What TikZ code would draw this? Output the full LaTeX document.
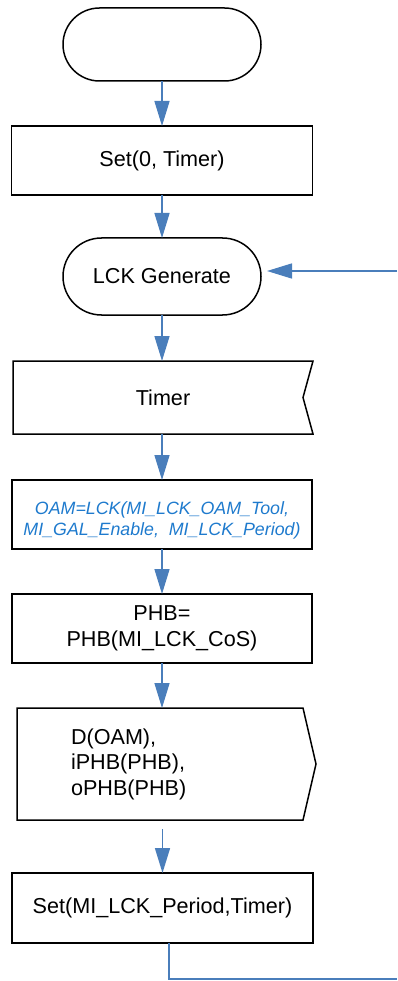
\documentclass[tikz,border=0pt]{standalone}
\usepackage{fontspec}
\setmainfont{Liberation Sans}
\usetikzlibrary{positioning, shapes.misc, arrows.meta}
\definecolor{flowblue}{RGB}{74,126,187}
\definecolor{noteblue}{RGB}{30,122,205}
\tikzset{
node distance=45pt, % gap between two boxes
every node/.style={font=\fontsize{21.6}{25.5}\selectfont, inner sep=0pt, outer sep=0pt, align=center},
terminal/.style={rounded rectangle, draw, line width=1.5pt, minimum width=198pt}, % start and loop entry
process/.style={rectangle, draw, line width=1.5pt, minimum width=301pt, minimum height=69pt},
signalbox/.style={rectangle, minimum height=73pt}, % outline is drawn by hand
outline/.style={draw, line width=1.5pt},
flow/.style={draw=flowblue, line width=1.5pt, -{Triangle[length=25pt, width=15pt]}},
loopline/.style={draw=flowblue, line width=1.5pt},
}

\begin{document}
\begin{tikzpicture}[x=1pt, y=-1pt]
    \useasboundingbox (0,0) rectangle (397,981);

    % main column
    \node[terminal, minimum height=73pt] (start) at (162,44.5) {};
    \node[process, below=of start] (setzero) {Set(0, Timer)};
    \node[terminal, minimum height=77pt, below=43pt of setzero] (lck) {LCK Generate};
    \node[signalbox, minimum width=300pt, below=46pt of lck, xshift=1pt] (timer) {Timer};
    \node[process, minimum width=300pt, below=46pt of timer, xshift=-1pt,
          font=\fontsize{17.8}{21.5}\selectfont\itshape, text=noteblue] (oam)
          {\rule{0pt}{25pt}OAM=LCK(MI\_LCK\_OAM\_Tool,\\MI\_GAL\_Enable,\ \ MI\_LCK\_Period)};
    \node[process, minimum width=300pt, below=of oam] (phb) {PHB=\\PHB(MI\_LCK\_CoS)};
    \node[signalbox, minimum width=286pt, minimum height=112pt, below=of phb, xshift=-2pt,
          text width=178pt, inner xsep=54pt, align=left] (send) {D(OAM),\\iPHB(PHB),\\oPHB(PHB)};
    \node[process, minimum height=70pt, below=53pt of send, xshift=2.5pt] (final) {Set(MI\_LCK\_Period,Timer)};

    % hand drawn outlines
    \draw[outline] (timer.north west) -- (timer.north east) -- ([xshift=-10pt]timer.east)
        -- (timer.south east) -- (timer.south west) -- cycle;
    \draw[outline] (send.north west) -- (send.north east) -- ([xshift=13pt]send.east)
        -- (send.south east) -- (send.south west) -- cycle;

    % loop ends at the border
    \coordinate (loopend) at (397,979);
    \coordinate (loopin) at (397,271);

    \draw[flow] (start) -- (setzero);
    \draw[flow] (setzero) -- (lck);
    \draw[flow] (lck.south) -- (lck.south |- timer.north);
    \draw[flow] (timer.south -| oam.north) -- (oam);
    \draw[flow] (oam) -- (phb);
    \draw[flow] (phb.south) -- (phb.south |- send.north);
    \draw[flow, shorten <=9pt] (send.south -| final.north) -- (final);
    \draw[loopline] ([xshift=6.5pt]final.south) |- (loopend);
    \draw[flow, shorten >=6pt] (loopin) -- (loopin -| lck.east);
\end{tikzpicture}
\end{document}
